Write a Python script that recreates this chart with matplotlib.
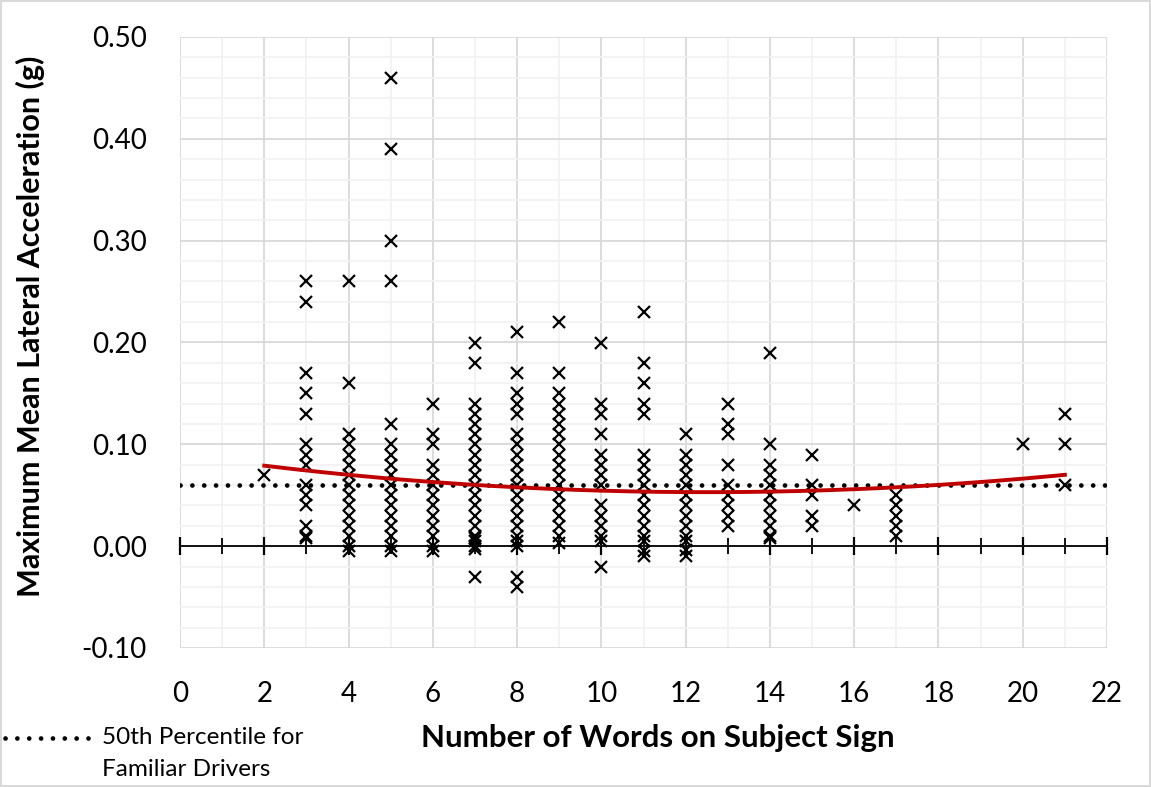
import matplotlib.pyplot as plt
import numpy as np

plt.rcParams['font.family'] = ['Lato', 'DejaVu Sans']

# values, one list per word count
words = [2, 3, 4, 5, 6, 7, 8, 9, 10, 11, 12, 13, 14, 15, 16, 17, 20, 21]
accel = {
    2: [0.07],
    3: [0.26, 0.24, 0.17, 0.15, 0.13, 0.10, 0.09, 0.08, 0.06, 0.05, 0.04, 0.02, 0.01, 0.008],
    4: [0.26, 0.16, 0.11, 0.10, 0.09, 0.08, 0.07, 0.06, 0.05, 0.04, 0.03, 0.02, 0.01, 0.00, -0.005],
    5: [0.46, 0.39, 0.30, 0.26, 0.12, 0.10, 0.09, 0.08, 0.07, 0.06, 0.05, 0.04, 0.03, 0.02, 0.01, 0.00, -0.005],
    6: [0.14, 0.11, 0.10, 0.08, 0.07, 0.06, 0.05, 0.04, 0.03, 0.02, 0.01, 0.00, -0.005],
    7: [0.20, 0.18, 0.14, 0.13, 0.12, 0.11, 0.10, 0.09, 0.08, 0.07, 0.06, 0.05, 0.04, 0.03, 0.02,
        0.01, 0.008, 0.005, 0.00, -0.003, -0.03],
    8: [0.21, 0.17, 0.15, 0.14, 0.13, 0.11, 0.10, 0.09, 0.08, 0.07, 0.06, 0.05, 0.04, 0.03, 0.02,
        0.01, 0.005, 0.00, -0.03, -0.04],
    9: [0.22, 0.17, 0.15, 0.14, 0.13, 0.12, 0.11, 0.10, 0.09, 0.08, 0.07, 0.06, 0.05, 0.04, 0.03,
        0.02, 0.01, 0.003],
    10: [0.20, 0.14, 0.13, 0.11, 0.09, 0.08, 0.07, 0.06, 0.04, 0.03, 0.02, 0.01, 0.005, -0.02],
    11: [0.23, 0.18, 0.16, 0.14, 0.13, 0.09, 0.08, 0.07, 0.06, 0.05, 0.04, 0.03, 0.02, 0.01,
         0.005, -0.005, -0.01],
    12: [0.11, 0.09, 0.08, 0.07, 0.06, 0.05, 0.04, 0.03, 0.02, 0.01, 0.005, -0.004, -0.01],
    13: [0.14, 0.12, 0.11, 0.08, 0.06, 0.05, 0.04, 0.03, 0.02],
    14: [0.19, 0.10, 0.08, 0.07, 0.06, 0.05, 0.04, 0.03, 0.02, 0.01, 0.008],
    15: [0.09, 0.06, 0.05, 0.03, 0.02],
    16: [0.04],
    17: [0.05, 0.04, 0.03, 0.02, 0.01],
    20: [0.10],
    21: [0.13, 0.10, 0.06],
}
percentile_50 = 0.06
# Excel polynomial (order 2) trendline, coefficients
trend_coef = [0.000236, -0.0059, 0.0899]

x_pts = np.concatenate([[w] * len(accel[w]) for w in words])
y_pts = np.concatenate([accel[w] for w in words])

fig = plt.figure(figsize=(11.51, 7.87), dpi=100)
fig.patch.set_edgecolor('#d9d9d9')
fig.patch.set_linewidth(1.5)
ax = fig.add_axes([180 / 1151, 1 - 648 / 787, (1107 - 180) / 1151, (648 - 37) / 787])

ax.set_xlim(0, 22)
ax.set_ylim(-0.10, 0.50)
ax.set_xticks(np.arange(0, 23, 2))
ax.set_xticks(np.arange(0, 23, 1), minor=True)
yt = np.arange(-0.10, 0.51, 0.10)
ax.set_yticks(yt)
ax.set_yticks(np.arange(-0.10, 0.51, 0.02), minor=True)
ax.set_yticklabels([f'{v:.2f}' for v in yt])
ax.grid(which='major', color='#d9d9d9', lw=1.3)
ax.grid(which='minor', color='#f2f2f2', lw=1.3)
ax.set_axisbelow(True)
for s in ['top', 'right', 'left']:
    ax.spines[s].set_visible(False)

# horizontal axis line sits at y = 0, labels stay at the bottom
ax.spines['bottom'].set_position(('data', 0))
ax.spines['bottom'].set_color('black')
ax.spines['bottom'].set_linewidth(1.3)
ax.tick_params(axis='x', which='major', direction='inout', length=13, width=1.6,
               labelbottom=False)
ax.tick_params(axis='x', which='minor', direction='inout', length=11, width=1.3)
ax.tick_params(axis='y', which='both', length=0, labelsize=20, pad=24)

lab = ax.secondary_xaxis('bottom')
lab.spines['bottom'].set_visible(False)
lab.set_xticks(np.arange(0, 23, 2))
lab.tick_params(length=0, labelsize=20, pad=24)

# 50th percentile reference
ax.plot([0, 22], [percentile_50, percentile_50], color='black', lw=3.4,
        linestyle=(0, (0.01, 2.5)), dash_capstyle='round', zorder=3)

ax.plot(x_pts, y_pts, linestyle='none', marker='x', color='black', ms=8.5, mew=1.6, zorder=4)

xt = np.linspace(min(words), max(words), 200)
ax.plot(xt, np.polyval(trend_coef, xt), color='#c00000', lw=2.8, zorder=5)

fig.text(30 / 1151, 1 - 326 / 787, 'Maximum Mean Lateral Acceleration (g)', rotation=90,
         ha='center', va='center', fontsize=22, fontweight='bold')
fig.text(658 / 1151, 1 - 738 / 787, 'Number of Words on Subject Sign', ha='center', va='center',
         fontsize=22.5, fontweight='bold')

# legend entry drawn in figure space
fig.lines.append(plt.Line2D([5 / 1151, 97 / 1151], [1 - 738 / 787, 1 - 738 / 787],
                            transform=fig.transFigure, color='black', lw=3.4,
                            linestyle=(0, (0.01, 2.5)), dash_capstyle='round'))
fig.text(102 / 1151, 1 - 738 / 787, '50th Percentile for', ha='left', va='center', fontsize=17.5)
fig.text(102 / 1151, 1 - 769 / 787, 'Familiar Drivers', ha='left', va='center', fontsize=17.5)

fig.savefig('out.png', dpi=100)
